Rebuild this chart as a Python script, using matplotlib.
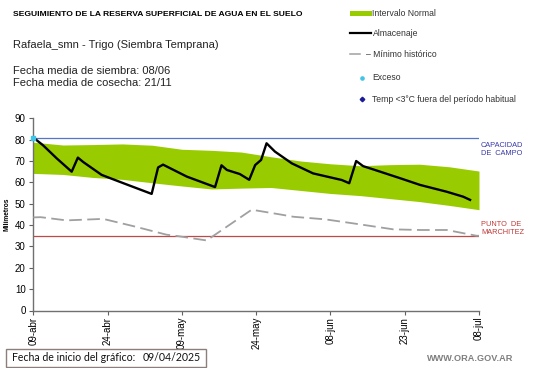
import matplotlib
matplotlib.use("Agg")
import matplotlib.pyplot as plt
from matplotlib.patches import Rectangle
from matplotlib.lines import Line2D

plt.rcParams['font.family'] = ['Liberation Sans', 'DejaVu Sans']

# ---------------- data ----------------
tick_days = [0, 15, 30, 45, 60, 75, 90]
tick_labels = ['09-abr', '24-abr', '09-may', '24-may', '08-jun', '23-jun', '08-jul']

band_days = [0, 6, 12, 18, 24, 30, 36, 42, 48, 54, 60, 66, 72, 78, 84, 90]
band_upper = [78.8, 77.5, 77.7, 78.0, 77.4, 75.5, 75.0, 74.2, 72.0, 70.0, 68.7, 67.8, 68.3, 68.5, 67.3, 65.3]
band_lower = [64.2, 63.7, 62.3, 61.4, 59.8, 58.3, 56.9, 57.3, 57.6, 56.2, 54.8, 53.8, 52.4, 51.0, 49.2, 47.2]

alm_days = [0, 2, 4.7, 7.75, 9.0, 10.1, 13.8, 18.2, 23.9, 25.2, 26.2, 28.6, 31.0, 36.7,
            38.0, 39.1, 41.7, 43.6, 44.8, 46.0, 47.1, 48.8, 52.2, 56.5, 62.3, 63.8,
            65.2, 66.6, 69.0, 74.0, 78.1, 83.5, 86.8, 88.2]
alm_vals = [81, 77.3, 71.3, 65.0, 71.6, 69.5, 63.5, 59.6, 54.6, 67.0, 68.3, 65.5, 62.7, 57.8,
            68.0, 65.8, 63.9, 61.2, 68.1, 70.5, 78.3, 74.4, 68.9, 64.2, 61.1, 59.6,
            70.0, 67.6, 65.8, 62.0, 58.8, 55.6, 53.3, 51.8]

min_days = [0, 1.5, 6.7, 14.1, 20.2, 26.9, 29.0, 35.0, 44.1, 49.8, 52.5, 58.9, 64.6, 72.7, 78.1, 83.5, 89.5, 90]
min_vals = [43.6, 43.7, 42.2, 42.9, 39.5, 35.5, 34.9, 32.8, 47.2, 45.0, 43.9, 42.7, 40.8, 38.0, 37.7, 37.7, 35.0, 35.0]

exceso_days = [0]
exceso_vals = [81]

capacidad_campo = 81
punto_marchitez = 35

# ---------------- figure ----------------
W, H = 541, 368
fig = plt.figure(figsize=(W / 100, H / 100), dpi=100)

ax_l, ax_r, ax_b, ax_t = 33.3, 479, 310.5, 118.3
ax = fig.add_axes([ax_l / W, 1 - ax_b / H, (ax_r - ax_l) / W, (ax_b - ax_t) / H])

ax.fill_between(band_days, band_lower, band_upper, color='#99cc00', lw=0, zorder=1)
ax.axhline(capacidad_campo, color='#5576c8', lw=0.9, zorder=2)
ax.axhline(punto_marchitez, color='#c04848', lw=0.9, zorder=2)
ax.plot(min_days, min_vals, color='#a0a0a0', lw=1.3, dashes=[7, 3], zorder=3)
ax.plot(alm_days, alm_vals, color='black', lw=1.7, zorder=4, solid_joinstyle='round')
ax.plot(exceso_days, exceso_vals, 's', color='#40c4e8', ms=3.2, zorder=5, clip_on=False)

ax.set_xlim(0, 90)
ax.set_ylim(0, 90)
ax.set_xticks(tick_days)
ax.set_xticklabels(tick_labels, rotation=90, fontsize=7)
ax.set_yticks(range(0, 91, 10))
ax.tick_params(axis='y', labelsize=7, length=3, width=0.8, color='#606060', pad=2.5)
ax.tick_params(axis='x', length=3, width=0.8, color='#606060', pad=1.5)
for s in ['top', 'right']:
    ax.spines[s].set_visible(False)
for s in ['left', 'bottom']:
    ax.spines[s].set_color('#707070')
    ax.spines[s].set_linewidth(1.0)
ax.set_ylabel('Milímetros', fontsize=4.8, fontweight='bold', labelpad=3)

# ---------------- overlay for texts (pixel coords) ----------------
ov = fig.add_axes([0, 0, 1, 1], zorder=10)
ov.set_xlim(0, W)
ov.set_ylim(H, 0)
ov.axis('off')
ov.patch.set_alpha(0)

ov.text(12.7, 15, 'SEGUIMIENTO DE LA RESERVA SUPERFICIAL DE AGUA EN EL SUELO',
        fontsize=6.1, fontweight='bold', va='center', ha='left')
ov.text(12.7, 45, 'Rafaela_smn - Trigo (Siembra Temprana)', fontsize=8, va='center', ha='left', color='#222222')
ov.text(12.7, 71, 'Fecha media de siembra: 08/06', fontsize=8, va='center', ha='left', color='#222222')
ov.text(12.7, 82.5, 'Fecha media de cosecha: 21/11', fontsize=8, va='center', ha='left', color='#222222')

# legend
ov.add_patch(Rectangle((350, 10.5), 21.5, 5.5, color='#99cc00', lw=0))
ov.text(372.5, 13.3, 'Intervalo Normal', fontsize=6.2, va='center', ha='left', color='#333333')
ov.add_line(Line2D([350, 371], [33.3, 33.3], color='black', lw=1.6))
ov.add_line(Line2D([350, 360], [54.3, 54.3], color='#a0a0a0', lw=1.1))
ov.text(372.5, 33.3, 'Almacenaje', fontsize=6.2, va='center', ha='left', color='#333333')
ov.text(365.5, 54.3, '– Mínimo histórico', fontsize=6.2, va='center', ha='left', color='#333333')
ov.plot([361.7], [77.7], 'o', color='#40c4e8', ms=2.3)
ov.text(372.5, 77.7, 'Exceso', fontsize=6.2, va='center', ha='left', color='#333333')
ov.plot([361.7], [99.3], 'D', color='#1a1a9a', ms=2.3)
ov.text(372.5, 99.3, 'Temp <3°C fuera del período habitual', fontsize=6.2, va='center', ha='left', color='#333333')

# reference line labels
ov.text(481, 149.5, 'CAPACIDAD\nDE  CAMPO', fontsize=5.3, va='center', ha='left', color='#3a3aa8', linespacing=1.15)
ov.text(481, 228.5, 'PUNTO  DE\nMARCHITEZ', fontsize=5.3, va='center', ha='left', color='#c03838', linespacing=1.15)

# bottom box
ov.add_patch(Rectangle((5.5, 348.5), 200, 18, fill=False, ec='#8a7f7a', lw=1.0))
ov.text(12.5, 357.5, 'Fecha de inicio del gráfico:', fontsize=7.6, va='center', ha='left',
        family=['Lato', 'DejaVu Sans'], color='#111111')
ov.text(143, 357.5, '09/04/2025', fontsize=7.6, va='center', ha='left',
        family=['Lato', 'DejaVu Sans'], color='#111111')
ov.text(427, 358.5, 'WWW.ORA.GOV.AR', fontsize=6.6, fontweight='bold', va='center', ha='left', color='#7f7f7f')

fig.savefig('out.png', dpi=100)
